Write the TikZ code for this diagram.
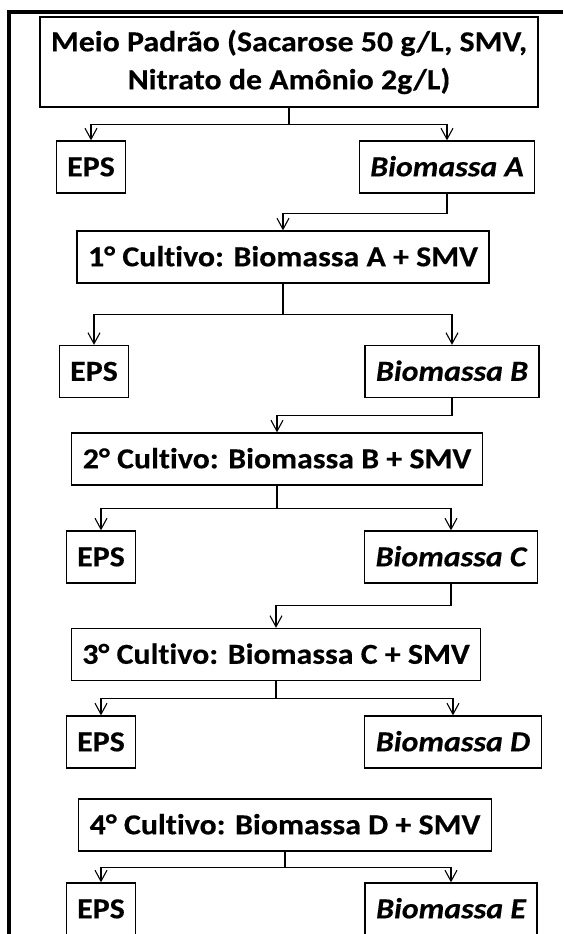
\documentclass[tikz,border=0pt]{standalone}
\usepackage{fontspec}
\setmainfont{Carlito}[Ligatures=NoCommon, FakeStretch=1.1,
  BoldFeatures={FakeBold=0.3}, BoldItalicFeatures={FakeBold=0.3}]
\usepackage{tikz}
\usetikzlibrary{arrows.meta}

\begin{document}
\begin{tikzpicture}[x=1pt, y=-1pt,
    box/.style={draw, line width=1.3pt, inner xsep=11pt, inner ysep=0pt,
      minimum height=52pt, text height=18.6pt, text depth=0pt,
      font=\fontsize{29}{38}\selectfont\bfseries},
    biobox/.style={box, font=\fontsize{29}{38}\selectfont\bfseries\itshape},
    conn/.style={-{Straight Barb[length=11pt, width=12pt]}, line width=1.1pt}]
  \useasboundingbox (0,0) rectangle (563,934);
  \clip (0,0) rectangle (563,934);
  % outer frame
  \draw[line width=3.2pt] (563,12) -- (9,12) -- (9,940);
  % start medium
  \node[draw, line width=1.3pt, inner xsep=11pt, minimum height=90pt,
    align=center, font=\fontsize{29}{38}\selectfont\bfseries] (meio) at (289,62)
    {Meio Padrão (Sacarose 50 g/L, SMV,\\Nitrato de Amônio 2g/L)};
  \node[box] (eps0) at (91,167) {EPS};
  \node[biobox] (bioA) at (447,167) {Biomassa A};
  \draw[conn] (meio.south) -- ++(0,17) -| (eps0.north);
  \draw[conn] (meio.south) -- ++(0,17) -| (bioA.north);
  % 1st culture
  \node[box] (cult1) at (283,257) {1° Cultivo: Biomassa A + SMV};
  \draw[conn] (bioA.south) -- ++(0,20) -| (cult1.north);
  \node[box] (eps1) at (94,371.5) {EPS};
  \node[biobox] (bioB) at (452,371.5) {Biomassa B};
  \draw[conn] (cult1.south) -- ++(0,31) -| (eps1.north);
  \draw[conn] (cult1.south) -- ++(0,31) -| (bioB.north);
  % 2nd culture
  \node[box] (cult2) at (277,459) {2° Cultivo: Biomassa B + SMV};
  \draw[conn] (bioB.south) -- ++(0,17) -| (cult2.north);
  \node[box] (eps2) at (101,557) {EPS};
  \node[biobox] (bioC) at (451,557) {Biomassa C};
  \draw[conn] (cult2.south) -- ++(0,23) -| (eps2.north);
  \draw[conn] (cult2.south) -- ++(0,23) -| (bioC.north);
  % 3rd culture
  \node[box] (cult3) at (276,654.5) {3° Cultivo: Biomassa C + SMV};
  \draw[conn] (bioC.south) -- ++(0,22) -| (cult3.north);
  \node[box] (eps3) at (101,742) {EPS};
  \node[biobox] (bioD) at (453,742) {Biomassa D};
  \draw[conn] (cult3.south) -- ++(0,17) -| (eps3.north);
  \draw[conn] (cult3.south) -- ++(0,17) -| (bioD.north);
  % 4th culture
  \node[box] (cult4) at (285,825) {4° Cultivo: Biomassa D + SMV};
  \node[box] (eps4) at (101,909) {EPS};
  \node[biobox] (bioE) at (451,909) {Biomassa E};
  \draw[conn] (cult4.south) -- ++(0,16) -| (eps4.north);
  \draw[conn] (cult4.south) -- ++(0,16) -| (bioE.north);
\end{tikzpicture}
\end{document}
